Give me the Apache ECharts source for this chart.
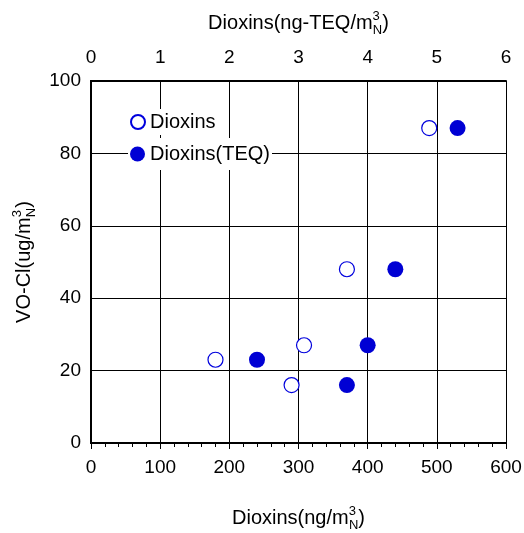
<!DOCTYPE html>
<html>
<head>
<meta charset="utf-8">
<script src="https://cdn.jsdelivr.net/npm/echarts@6/dist/echarts.min.js"></script>
<style>
  html,body{margin:0;padding:0;background:#fff;}
  #chart{width:524px;height:533px;}
</style>
</head>
<body>
<div id="chart"></div>
<script>
// Dioxins (ng/m3N) vs VO-Cl, bottom axis
var dioxinsX = [180, 290, 308, 370, 489];
var dioxinsY = [23, 16, 27, 48, 87];
// Dioxins (ng-TEQ/m3N) vs VO-Cl, top axis
var teqX = [2.4, 3.7, 4.0, 4.4, 5.3];
var teqY = [23, 16, 27, 48, 87];

var bottomTicks = [0, 100, 200, 300, 400, 500, 600];
var topTicks = [0, 1, 2, 3, 4, 5, 6];
var yTicks = [0, 20, 40, 60, 80, 100];

function pairs(xs, ys) {
  return xs.map(function (x, i) { return [x, ys[i]]; });
}

var font = 'Liberation Sans, Arial, sans-serif';
var rich = {
  a: {fontSize: 20, fontFamily: font, color: '#000'},
  sup: {fontSize: 13, fontFamily: font, color: '#000', padding: [0, 0, 14, 0]},
  sub: {fontSize: 13, fontFamily: font, color: '#000', padding: [14, 0, 0, -7]}
};

var myChart = echarts.init(document.getElementById('chart'));
myChart.setOption({
  animation: false,
  grid: {left: 91, right: 18, top: 81, bottom: 90, outerBoundsMode: 'none'},
  legend: [{
    data: ['Dioxins'],
    left: 128, top: 109,
    padding: [3, 4, 3, 2],
    backgroundColor: '#fff',
    itemWidth: 14, itemHeight: 14, itemGap: 4,
    textStyle: {fontSize: 20, fontFamily: font, color: '#000'}
  }, {
    data: ['Dioxins(TEQ)'],
    left: 128, top: 138,
    padding: [6, 2, 6, 2],
    backgroundColor: '#fff',
    itemWidth: 15, itemHeight: 15,
    textStyle: {fontSize: 20, fontFamily: font, color: '#000'}
  }],
  xAxis: [{
    type: 'value', position: 'bottom',
    min: 0, max: 600, interval: 100,
    name: '{a|Dioxins(ng/m}{sup|3}{sub|N}{a|)}',
    nameLocation: 'middle', nameGap: 62,
    nameTextStyle: {rich: rich},
    axisLine: {lineStyle: {color: '#000', width: 2}},
    axisTick: {show: true, length: 6, lineStyle: {color: '#000'}},
    minorTick: {show: true, splitNumber: 5, length: 4, lineStyle: {color: '#000'}},
    axisLabel: {fontSize: 19, fontFamily: font, color: '#000', margin: 15},
    splitLine: {show: true, lineStyle: {color: '#000', width: 1}}
  }, {
    type: 'value', position: 'bottom',
    min: 0, max: 600, interval: 100,
    axisLine: {show: false},
    axisTick: {show: false},
    minorTick: {show: true, splitNumber: 5, length: 4, inside: true, lineStyle: {color: '#000'}},
    axisLabel: {show: false},
    splitLine: {show: false}
  }, {
    type: 'value', position: 'top',
    min: 0, max: 6, interval: 1,
    name: '{a|Dioxins(ng-TEQ/m}{sup|3}{sub|N}{a|)}',
    nameLocation: 'middle', nameGap: 44,
    nameTextStyle: {rich: rich},
    axisLine: {lineStyle: {color: '#000', width: 2}},
    axisTick: {show: false},
    axisLabel: {fontSize: 19, fontFamily: font, color: '#000', margin: 14},
    splitLine: {show: false}
  }],
  yAxis: [{
    type: 'value', position: 'left',
    min: 0, max: 100, interval: 20,
    name: '{a|VO-Cl(ug/m}{sup|3}{sub|N}{a|)}',
    nameLocation: 'middle', nameGap: 52, nameRotate: 90,
    nameTextStyle: {rich: rich},
    axisLine: {show: true, lineStyle: {color: '#000', width: 2}},
    axisTick: {show: false},
    axisLabel: {fontSize: 19, fontFamily: font, color: '#000', margin: 10},
    splitLine: {show: true, lineStyle: {color: '#000', width: 1}}
  }, {
    type: 'value', position: 'right',
    min: 0, max: 100, interval: 20,
    axisLine: {show: true, lineStyle: {color: '#000', width: 2}},
    axisTick: {show: false},
    axisLabel: {show: false},
    splitLine: {show: false}
  }],
  series: [{
    name: 'Dioxins',
    type: 'scatter',
    xAxisIndex: 0, yAxisIndex: 0,
    symbol: 'circle', symbolSize: 15,
    itemStyle: {color: '#fff', borderColor: '#0000dd', borderWidth: 1.2, opacity: 1},
    data: pairs(dioxinsX, dioxinsY),
    z: 3
  }, {
    name: 'Dioxins(TEQ)',
    type: 'scatter',
    xAxisIndex: 2, yAxisIndex: 0,
    symbol: 'circle', symbolSize: 16,
    itemStyle: {color: '#0000d4', opacity: 1},
    data: pairs(teqX, teqY),
    z: 3
  }]
});
</script>
</body>
</html>
